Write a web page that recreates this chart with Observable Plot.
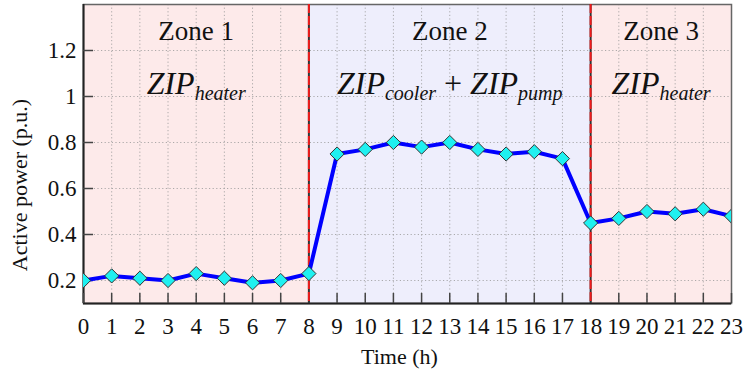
<!DOCTYPE html>
<html>
<head>
<meta charset="utf-8">
<script src="https://cdn.jsdelivr.net/npm/d3@7"></script>
<script src="https://cdn.jsdelivr.net/npm/@observablehq/plot@0.6"></script>
<style>
  html, body { margin: 0; padding: 0; background: #fff; }
  #chart svg { display: block; }
</style>
</head>
<body>
<div id="chart"></div>
<script>
// Hourly active power profile (p.u.)
const hours = [0, 1, 2, 3, 4, 5, 6, 7, 8, 9, 10, 11, 12, 13, 14, 15, 16, 17, 18, 19, 20, 21, 22, 23];
const power = [0.20, 0.22, 0.21, 0.20, 0.23, 0.21, 0.19, 0.20, 0.23, 0.75, 0.77, 0.80,
               0.78, 0.80, 0.77, 0.75, 0.76, 0.73, 0.45, 0.47, 0.50, 0.49, 0.51, 0.48];

// Operating zones
const zoneNames = ["Zone 1", "Zone 2", "Zone 3"];
const zoneStart = [0, 8, 18];
const zoneEnd = [8, 18, 23];
const zoneLoads = ["ZIP_heater", "ZIP_cooler + ZIP_pump", "ZIP_heater"];
const zoneFill = ["#fdeaea", "#eeeefc", "#fdeaea"];

// Tick positions
const xTicks = hours;
const yTicks = [0.2, 0.4, 0.6, 0.8, 1, 1.2];
const boundaries = [8, 18];

const serif = "Liberation Serif";

const series = hours.map((h, i) => ({hour: h, p: power[i]}));
const zones = zoneNames.map((name, i) => ({
  name, start: zoneStart[i], end: zoneEnd[i], load: zoneLoads[i], fill: zoneFill[i],
  mid: (zoneStart[i] + zoneEnd[i]) / 2
}));

const chart = Plot.plot({
  width: 743,
  height: 375,
  marginLeft: 83,
  marginRight: 12,
  marginTop: 4,
  marginBottom: 72,
  style: {fontFamily: serif, fontSize: "22px", color: "#111", background: "#fff"},
  x: {domain: [0, 23]},
  y: {domain: [0.1, 1.4]},
  marks: [
    Plot.rect(zones, {x1: "start", x2: "end", fill: "fill"}),
    Plot.gridX(xTicks, {stroke: "#999", strokeOpacity: 0.8, strokeDasharray: "1.2,2.4"}),
    Plot.gridY(yTicks, {stroke: "#999", strokeOpacity: 0.8, strokeDasharray: "1.2,2.4"}),
    Plot.frame({stroke: "#666", strokeWidth: 1.5}),
    Plot.ruleX([0], {stroke: "#222", strokeWidth: 2}),
    Plot.ruleY([0.1], {stroke: "#222", strokeWidth: 2}),
    Plot.axisX(xTicks, {tickSize: -10, tickPadding: 24, tickFormat: d => d, stroke: "#444", strokeWidth: 1.5, label: null, fontSize: 23, fill: "#111"}),
    Plot.axisY(yTicks, {tickSize: -10, tickPadding: 17, tickFormat: d => d, stroke: "#444", strokeWidth: 1.5, label: null, fontSize: 23, fill: "#111"}),
    Plot.ruleX(boundaries, {stroke: "#333", strokeWidth: 2}),
    Plot.ruleX(boundaries, {stroke: "#ee1c1c", strokeWidth: 2, strokeDasharray: "9,3"}),
    Plot.line(series, {x: "hour", y: "p", stroke: "#0000ff", strokeWidth: 4, clip: true}),
    Plot.dot(series, {x: "hour", y: "p", symbol: "diamond2", r: 6.4, fill: "#1ff0f0", stroke: "#333", strokeWidth: 1, clip: true}),
    Plot.text(zones, {x: "mid", text: "name", frameAnchor: "top", lineAnchor: "middle", dy: 27, fontSize: 27, fill: "#111"}),
    Plot.text(zones, {x: "mid", text: "load", frameAnchor: "top", lineAnchor: "middle", dy: 79, fontSize: 32, fontStyle: "italic", fill: "#111"}),
    Plot.text(["Time (h)"], {frameAnchor: "bottom", textAnchor: "middle", lineAnchor: "middle", dx: -8, dy: 53, fontSize: 22, fill: "#111"}),
    Plot.text(["Active power (p.u.)"], {frameAnchor: "left", textAnchor: "middle", lineAnchor: "middle", dx: -64, dy: 31, rotate: -90, fontSize: 22, fill: "#111"})
  ]
});

// Turn "_name" segments into subscripts, keep "+" upright
d3.select(chart).selectAll("text").each(function () {
  const s = this.textContent;
  if (!s.includes("_")) return;
  this.textContent = "";
  const parts = s.split(/(_\w+|\s*\+\s*)/).filter(p => p.length);
  let shifted = false;
  for (const p of parts) {
    const t = document.createElementNS("http://www.w3.org/2000/svg", "tspan");
    if (p.startsWith("_")) {
      t.textContent = p.slice(1);
      t.setAttribute("font-size", 20);
      t.setAttribute("dy", 6);
      shifted = true;
    } else {
      t.textContent = p.replace(/ /g, "\u00a0");
      if (p.includes("+")) t.setAttribute("font-style", "normal");
      if (shifted) { t.setAttribute("dy", -6); shifted = false; }
    }
    this.appendChild(t);
  }
});

// Serif typeface on every label
d3.select(chart).selectAll("text, tspan").style("font-family", "'Liberation Serif', 'Times New Roman', serif", "important");

document.getElementById("chart").appendChild(chart);
</script>
</body>
</html>
